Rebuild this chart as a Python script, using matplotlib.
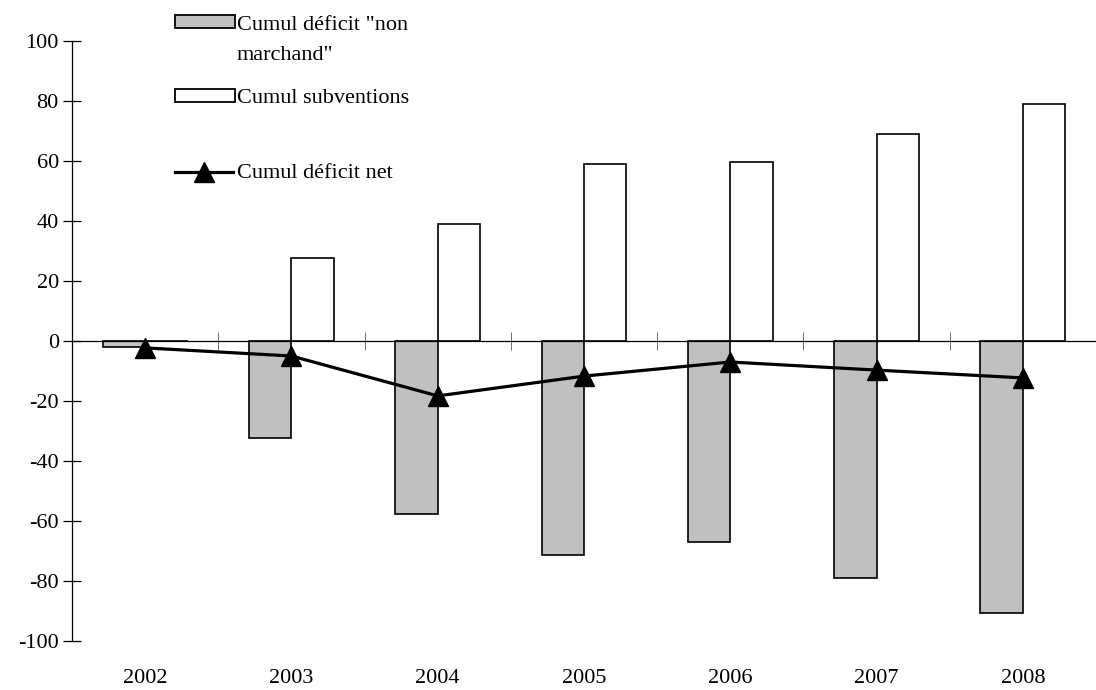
import matplotlib
matplotlib.use("Agg")
import matplotlib.pyplot as plt
import numpy as np
from matplotlib.patches import Rectangle
from matplotlib.lines import Line2D

years = ["2002", "2003", "2004", "2005", "2006", "2007", "2008"]
deficit_non_marchand = [-2, -32.3, -57.7, -71.3, -67, -79, -90.7]
subventions = [0, 27.7, 39, 59, 59.7, 69, 79]
deficit_net = [-2.3, -5, -18.3, -11.7, -7, -9.7, -12.3]
labels = ['Cumul déficit "non\nmarchand"', 'Cumul subventions', 'Cumul déficit net']

plt.rcParams['font.family'] = ['Liberation Serif', 'DejaVu Serif']
plt.rcParams['axes.unicode_minus'] = False

W, H = 1096, 690
fig = plt.figure(figsize=(W/100, H/100), dpi=100)
ax = fig.add_axes([72/W, 49/H, 1 - 72/W, 600/H])

x = np.arange(len(years))
w = 0.29
grey = '#c0c0c0'
ax.bar(x - w/2, deficit_non_marchand, width=w, color=grey, edgecolor='black', linewidth=1.2)
ax.bar(x + w/2, subventions, width=w, color='white', edgecolor='black', linewidth=1.2)
ax.plot(x, deficit_net, color='black', linewidth=2.3, marker='^', markersize=15, zorder=5)

ax.set_xlim(-0.5, len(years) - 0.5)
ax.set_ylim(-100, 100)
ax.set_yticks(np.arange(-100, 101, 20))
ax.tick_params(axis='y', direction='inout', length=13, width=0.9, labelsize=16, pad=3)
for s in ['top', 'right']:
    ax.spines[s].set_visible(False)
ax.spines['left'].set_linewidth(0.9)
ax.spines['bottom'].set_position(('data', 0))
ax.spines['bottom'].set_linewidth(0.9)
ax.set_xticks(np.arange(0.5, len(years) - 0.5, 1.0))
ax.set_xticklabels([])
ax.tick_params(axis='x', direction='inout', length=13, width=0.6, color='#555555')
for i, y in enumerate(years):
    ax.text(x[i], -0.062, y, transform=ax.get_xaxis_transform(), ha='center', va='center', fontsize=16)

# legend drawn manually (figure pixel coordinates)
def fx(px):
    return px / W
def fy(py):
    return 1 - py / H

fig.add_artist(Rectangle((fx(175), fy(28)), 60/W, 13/H, transform=fig.transFigure,
                         facecolor=grey, edgecolor='black', linewidth=1.3))
fig.add_artist(Rectangle((fx(175), fy(102)), 60/W, 13/H, transform=fig.transFigure,
                         facecolor='white', edgecolor='black', linewidth=1.3))
fig.add_artist(Line2D([fx(175), fx(233)], [fy(172), fy(172)], transform=fig.transFigure,
                      color='black', linewidth=2.3))
fig.add_artist(Line2D([fx(204)], [fy(172)], transform=fig.transFigure,
                      color='black', marker='^', markersize=15, linestyle='none'))
fig.text(fx(237), fy(16), labels[0], fontsize=16, ha='left', va='top', linespacing=1.75)
fig.text(fx(237), fy(103), labels[1], fontsize=16, ha='left', va='baseline')
fig.text(fx(237), fy(178), labels[2], fontsize=16, ha='left', va='baseline')

fig.savefig('out.png', dpi=100)
